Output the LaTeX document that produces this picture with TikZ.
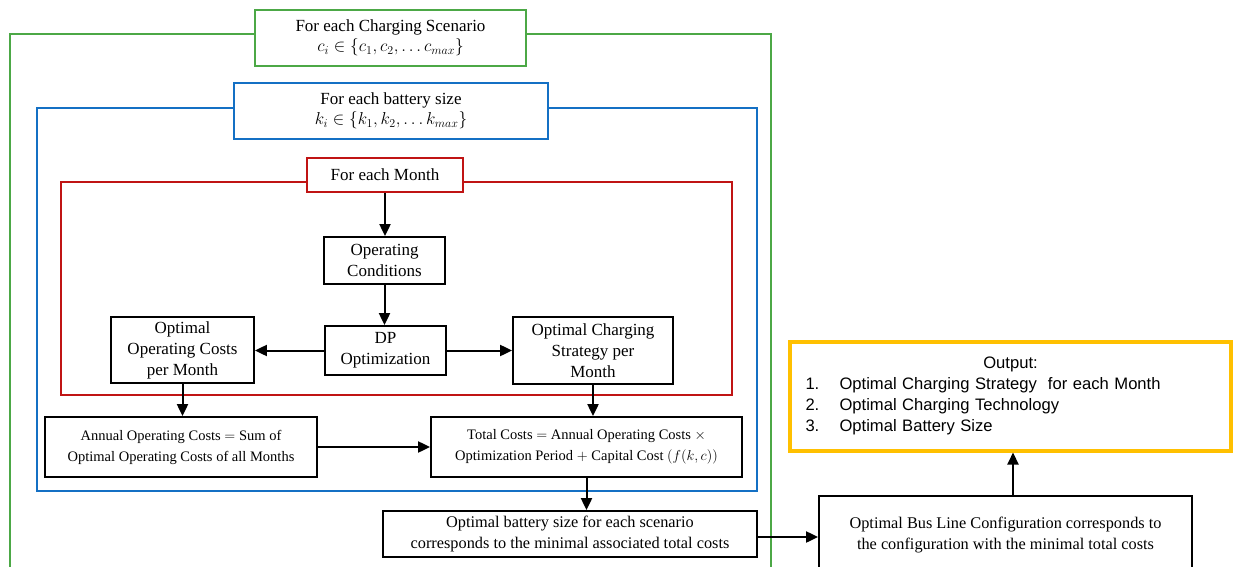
\documentclass[tikz,border=0pt]{standalone}
\usepackage{fontspec}
\setmainfont{Liberation Serif}
\newfontfamily\arialfont{Liberation Sans}
\usetikzlibrary{arrows.meta}
\definecolor{fgreen}{RGB}{76,168,70}
\definecolor{fblue}{RGB}{20,112,196}
\definecolor{fred}{RGB}{192,20,20}
\definecolor{fyellow}{RGB}{255,192,0}
\tikzset{
  box/.style={draw=black,line width=1.8pt,inner sep=0pt,align=center,font=\fontsize{17}{21}\selectfont},
  smallbox/.style={box,font=\fontsize{14.5}{21}\selectfont},
  midbox/.style={box,font=\fontsize{16.3}{21}\selectfont},
  gframe/.style={draw=fgreen,line width=1.8pt},
  bframe/.style={draw=fblue,line width=1.8pt},
  rframe/.style={draw=fred,line width=1.8pt},
  arr/.style={line width=2pt,-{Triangle[length=12pt,width=11pt]}},
}
\begin{document}
\begin{tikzpicture}[x=1pt,y=-1pt]
\useasboundingbox (0,0) rectangle (1233,567);
% frames
\draw[gframe] (255,34) -- (10,34) -- (10,590);
\draw[gframe] (526,34) -- (771,34) -- (771,590);
\draw[bframe] (234,108) -- (37,108) -- (37,491) -- (757,491) -- (757,108) -- (548,108);
\draw[rframe] (307,182) -- (61,182) -- (61,395) -- (732,395) -- (732,182) -- (463,182);
% title nodes
\node[box,draw=fgreen,fill=white,minimum width=271pt,minimum height=56pt] (gt) at (390.5,38)
  {For each Charging Scenario\\[-1pt]$c_i\in\{c_1,c_2,\ldots c_{max}\}$};
\node[box,draw=fblue,fill=white,minimum width=314pt,minimum height=56pt] (bt) at (391,111)
  {For each battery size\\[-1pt]$k_i\in\{k_1,k_2,\ldots k_{max}\}$};
\node[box,draw=fred,fill=white,minimum width=156pt,minimum height=34pt] (rt) at (385,175)
  {For each Month};
% inner nodes
\node[box,minimum width=121pt,minimum height=47pt] (oc) at (384.5,260.5) {Operating\\Conditions};
\node[box,minimum width=121pt,minimum height=49pt] (dp) at (385.5,350.5) {DP\\Optimization};
\node[box,minimum width=143pt,minimum height=66pt] (ooc) at (182.5,350) {Optimal\\Operating Costs\\per Month};
\node[box,minimum width=160pt,minimum height=67pt] (ocs) at (593,350.5) {Optimal Charging\\Strategy per\\Month};
\node[smallbox,minimum width=272pt,minimum height=60pt] (aoc) at (181,447)
  {Annual Operating Costs $=$ Sum of\\Optimal Operating Costs of all Months};
\node[smallbox,minimum width=311pt,minimum height=60pt] (tc) at (586.5,447)
  {Total Costs $=$ Annual Operating Costs $\times$\\Optimization Period $+$ Capital Cost $(f(k,c))$};
\node[midbox,minimum width=374pt,minimum height=46pt] (obs) at (570,534)
  {Optimal battery size for each scenario\\corresponds to the minimal associated total costs};
\node[midbox,minimum width=373pt,minimum height=79pt] (bus) at (1005.5,535.5)
  {Optimal Bus Line Configuration corresponds to\\the configuration with the minimal total costs};
\node[draw=fyellow,line width=4pt,inner sep=0pt,minimum width=441pt,minimum height=109pt,
  text width=410pt,font=\arialfont\fontsize{16.6}{21}\selectfont] (out) at (1010.5,396)
  {\centering Output:\par\raggedright
   \makebox[34pt][l]{1.}Optimal Charging Strategy\ \ for each Month\\
   \makebox[34pt][l]{2.}Optimal Charging Technology\\
   \makebox[34pt][l]{3.}Optimal Battery Size\par};
% connectors
\draw[arr] (rt.south) -- (rt.south |- oc.north);
\draw[arr] (oc.south) -- (oc.south |- dp.north);
\draw[arr] (dp.west) -- (ooc.east |- dp.west);
\draw[arr] (dp.east) -- (ocs.west |- dp.east);
\draw[arr] (ooc.south) -- (ooc.south |- aoc.north);
\draw[arr] (ocs.south) -- (ocs.south |- tc.north);
\draw[arr] (aoc.east) -- (tc.west |- aoc.east);
\draw[arr] (tc.south) -- (tc.south |- obs.north);
\draw[arr] ([yshift=-3pt]obs.east) -- ([yshift=-3pt]obs.east -| bus.west);
\draw[arr] ([xshift=7.5pt]bus.north) -- ([xshift=7.5pt]bus.north |- out.south);
\end{tikzpicture}
\end{document}
